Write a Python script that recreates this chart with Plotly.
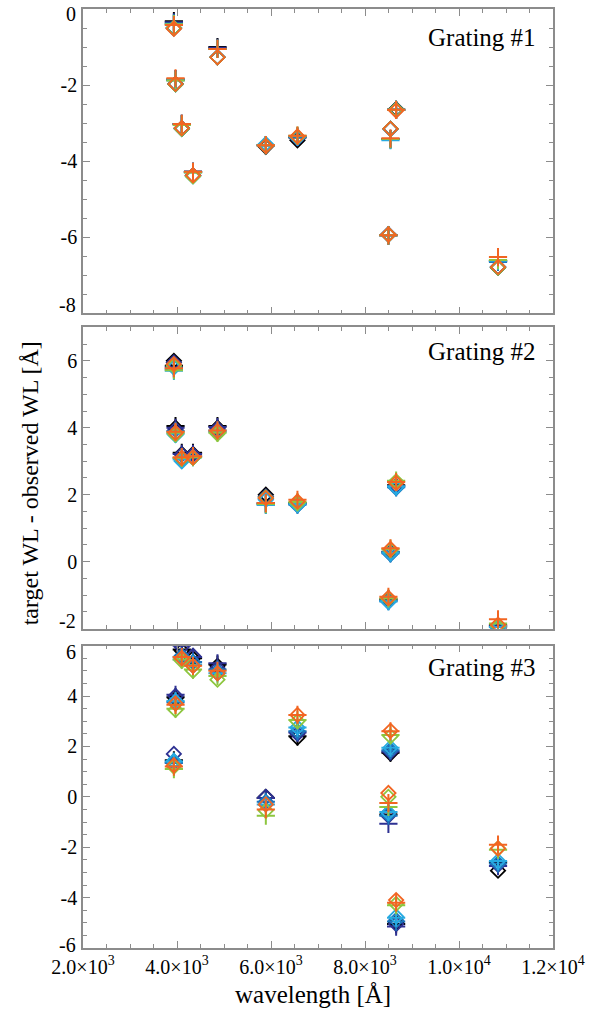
import plotly.graph_objects as go
from plotly.subplots import make_subplots

# Wavelengths of the lines (Angstrom)
wavelengths = [3933.7, 3968.5, 4101.7, 4340.5, 4861.3, 5889.95, 6562.8, 8498.0, 8542.1, 8662.1, 10830.3]

series_names = ["black", "navy", "blue", "cyan", "green", "orange"]
series_colors = ["#000000", "#2e3192", "#1c75bc", "#27aae1", "#8dc63f", "#f26522"]

# Grating #1 : diamonds and plus values per series
g1_diamond = {
    "black":  [-0.50, -1.97, -3.15, -4.38, -1.27, -3.62, -3.45, -5.93, -3.15, -2.63, -6.80],
    "navy":   [-0.50, -1.97, -3.13, -4.38, -1.27, -3.60, -3.40, -5.92, -3.15, -2.65, -6.78],
    "blue":   [-0.50, -1.98, -3.14, -4.38, -1.27, -3.57, -3.38, -5.93, -3.15, -2.65, -6.78],
    "cyan":   [-0.50, -1.98, -3.15, -4.40, -1.27, -3.55, -3.38, -5.93, -3.15, -2.65, -6.78],
    "green":  [-0.50, -1.98, -3.15, -4.40, -1.27, -3.60, -3.36, -5.93, -3.15, -2.65, -6.80],
    "orange": [-0.52, -1.97, -3.13, -4.37, -1.27, -3.60, -3.35, -5.93, -3.15, -2.67, -6.78],
}
g1_plus = {
    "black":  [-0.32, -1.85, -3.02, -4.28, -1.00, -3.58, -3.38, -5.95, -3.42, -2.65, -6.62],
    "navy":   [-0.35, -1.85, -3.02, -4.28, -1.02, -3.58, -3.36, -5.95, -3.42, -2.65, -6.62],
    "blue":   [-0.38, -1.87, -3.03, -4.28, -1.05, -3.58, -3.35, -5.95, -3.42, -2.65, -6.65],
    "cyan":   [-0.40, -1.87, -3.03, -4.30, -1.05, -3.58, -3.35, -5.95, -3.45, -2.65, -6.62],
    "green":  [-0.40, -1.88, -3.05, -4.30, -1.05, -3.58, -3.33, -5.95, -3.42, -2.65, -6.60],
    "orange": [-0.42, -1.82, -3.02, -4.28, -1.05, -3.58, -3.33, -5.95, -3.40, -2.65, -6.52],
}

# Grating #2
g2_diamond = {
    "black":  [6.00, 4.00, 3.22, 3.22, 4.00, 2.00, 1.72, -1.15, 0.28, 2.25, -1.95],
    "navy":   [5.95, 3.95, 3.20, 3.20, 3.97, 1.95, 1.72, -1.15, 0.28, 2.25, -1.95],
    "blue":   [5.88, 3.85, 3.05, 3.12, 3.90, 1.88, 1.68, -1.20, 0.22, 2.20, -1.98],
    "cyan":   [5.80, 3.78, 3.00, 3.10, 3.85, 1.85, 1.70, -1.20, 0.25, 2.22, -1.98],
    "green":  [5.85, 3.80, 3.08, 3.10, 3.82, 1.92, 1.75, -1.10, 0.35, 2.40, -1.92],
    "orange": [5.90, 3.85, 3.10, 3.12, 3.90, 1.90, 1.80, -1.08, 0.38, 2.35, -1.88],
}
g2_plus = {
    "black":  [5.85, 4.05, 3.25, 3.25, 4.05, 1.75, 1.75, -1.12, 0.30, 2.28, -1.90],
    "navy":   [5.80, 4.00, 3.22, 3.22, 4.02, 1.72, 1.72, -1.15, 0.28, 2.25, -1.92],
    "blue":   [5.75, 3.90, 3.10, 3.15, 3.92, 1.70, 1.70, -1.18, 0.25, 2.22, -1.95],
    "cyan":   [5.70, 3.82, 3.05, 3.12, 3.88, 1.70, 1.72, -1.18, 0.28, 2.25, -1.95],
    "green":  [5.72, 3.85, 3.10, 3.12, 3.85, 1.72, 1.78, -1.10, 0.38, 2.42, -1.85],
    "orange": [5.78, 3.88, 3.12, 3.15, 3.92, 1.75, 1.85, -1.05, 0.40, 2.38, -1.72],
}

# Grating #3
g3_diamond = {
    "black":  [1.40, 3.90, 5.80, 5.50, 5.20, 0.00, 2.35, -0.65, 1.72, -5.00, -2.93],
    "navy":   [1.70, 4.00, 5.95, 5.60, 5.10, 0.00, 2.50, -0.75, 1.78, -5.05, -2.70],
    "blue":   [1.35, 3.75, 5.60, 5.35, 5.00, -0.20, 2.60, -0.70, 1.85, -4.90, -2.65],
    "cyan":   [1.42, 3.80, 5.50, 5.20, 4.90, -0.30, 2.75, -0.63, 1.95, -4.75, -2.55],
    "green":  [1.20, 3.45, 5.40, 5.00, 4.65, -0.55, 3.00, 0.00, 2.40, -4.25, -2.05],
    "orange": [1.25, 3.70, 5.50, 5.20, 4.90, -0.30, 3.25, 0.15, 2.62, -4.10, -2.05],
}
g3_plus = {
    "black":  [1.45, 3.95, 5.85, 5.50, 5.25, -0.05, 2.40, -0.70, 1.75, -5.05, -2.60],
    "navy":   [1.35, 4.05, 6.00, 5.55, 5.30, -0.05, 2.55, -1.07, 1.80, -5.15, -2.75],
    "blue":   [1.35, 3.75, 5.55, 5.35, 5.05, -0.20, 2.60, -0.75, 1.85, -4.95, -2.65],
    "cyan":   [1.40, 3.80, 5.45, 5.25, 4.90, -0.30, 2.75, -0.60, 1.95, -4.80, -2.55],
    "green":  [1.10, 3.50, 5.45, 5.05, 4.80, -0.75, 3.05, -0.40, 2.45, -4.30, -2.10],
    "orange": [1.20, 3.65, 5.55, 5.20, 5.00, -0.50, 3.25, -0.25, 2.60, -4.20, -1.90],
}

grating_labels = ["Grating #1", "Grating #2", "Grating #3"]
y_ranges = [[-8, 0], [-2, 7], [-6, 6]]
y_tickvals = [[-8, -6, -4, -2, 0], [-2, 0, 2, 4, 6], [-6, -4, -2, 0, 2, 4, 6]]
x_tickvals = [2000, 4000, 6000, 8000, 10000, 12000]
x_ticktext = ["2.0×10<sup>3</sup>", "4.0×10<sup>3</sup>", "6.0×10<sup>3</sup>",
              "8.0×10<sup>3</sup>", "1.0×10<sup>4</sup>", "1.2×10<sup>4</sup>"]

FONT = "Liberation Serif"
AXCOL = "#8c8c8c"

fig = make_subplots(rows=3, cols=1, shared_xaxes=False)

panels = [(g1_diamond, g1_plus), (g2_diamond, g2_plus), (g3_diamond, g3_plus)]
for r, (dia, plu) in enumerate(panels, start=1):
    for name, col in zip(series_names, series_colors):
        fig.add_trace(go.Scatter(
            x=wavelengths, y=dia[name], mode="markers", showlegend=False,
            marker=dict(symbol="diamond-open", size=11, color=col, line=dict(width=1.8, color=col)),
        ), row=r, col=1)
        fig.add_trace(go.Scatter(
            x=wavelengths, y=plu[name], mode="markers", showlegend=False,
            marker=dict(symbol="cross-thin-open", size=13, color=col, line=dict(width=2, color=col)),
        ), row=r, col=1)

domains = [[0.6759, 1.0], [0.3401, 0.6610], [0.0, 0.3220]]
label_y = [0.905, 0.92, 0.928]
for i in range(3):
    xa = "xaxis" if i == 0 else f"xaxis{i+1}"
    ya = "yaxis" if i == 0 else f"yaxis{i+1}"
    fig.layout[xa].update(
        domain=[0, 1], range=[2000, 12000], showgrid=False, zeroline=False,
        showline=True, linecolor=AXCOL, linewidth=1.5, mirror="allticks",
        ticks="inside", ticklen=7, tickcolor=AXCOL, tickwidth=1,
        tickvals=x_tickvals, ticktext=x_ticktext, showticklabels=(i == 2),
        tickfont=dict(family=FONT, size=20, color="black"),
        minor=dict(ticks="inside", ticklen=4, tickcolor=AXCOL, dtick=500, tick0=0, showgrid=False),
    )
    lo, hi = y_ranges[i]
    inner = [v for v in y_tickvals[i] if v not in (lo, hi)]
    fig.layout[ya].update(
        domain=domains[i], range=y_ranges[i], showgrid=False, zeroline=False,
        showline=True, linecolor=AXCOL, linewidth=1.5, mirror="allticks",
        ticks="inside", ticklen=7, tickcolor=AXCOL, tickwidth=1,
        tickvals=inner, ticktext=[str(v) for v in inner],
        tickfont=dict(family=FONT, size=20, color="black"),
        minor=dict(ticks="inside", ticklen=4, tickcolor=AXCOL, dtick=0.5, tick0=0, showgrid=False),
    )
    xref = "x domain" if i == 0 else f"x{i+1} domain"
    yref = "y domain" if i == 0 else f"y{i+1} domain"
    yr = "y" if i == 0 else f"y{i+1}"
    # edge labels, nudged inside the panel as in the original
    for v in y_tickvals[i]:
        if v in (lo, hi):
            shift = -5 if v == hi else 8
            if i == 2:
                shift = -6 if v == hi else 3
            fig.add_annotation(text=str(v), xref="paper", yref=yr, x=0, y=v,
                               xanchor="right", yanchor="middle", xshift=-5, yshift=shift,
                               showarrow=False, font=dict(family=FONT, size=20, color="black"))
    fig.add_annotation(text=grating_labels[i], xref=xref, yref=yref, x=0.968, y=label_y[i],
                       xanchor="right", yanchor="middle", showarrow=False,
                       font=dict(family=FONT, size=25, color="black"))

fig.add_annotation(text="target WL - observed WL [Å]", xref="paper", yref="paper",
                   x=-0.1125, y=0.495, textangle=-90, xanchor="center", yanchor="middle",
                   showarrow=False, font=dict(family=FONT, size=24, color="black"))
fig.add_annotation(text="wavelength [Å]", xref="paper", yref="paper",
                   x=0.49, y=-0.05, xanchor="center", yanchor="middle",
                   showarrow=False, font=dict(family=FONT, size=25, color="black"))

fig.update_layout(
    width=592, height=1020,
    margin=dict(l=83, r=38, t=7, b=72),
    paper_bgcolor="white", plot_bgcolor="white",
    font=dict(family=FONT, color="black"),
)

fig.write_html("out.html")
